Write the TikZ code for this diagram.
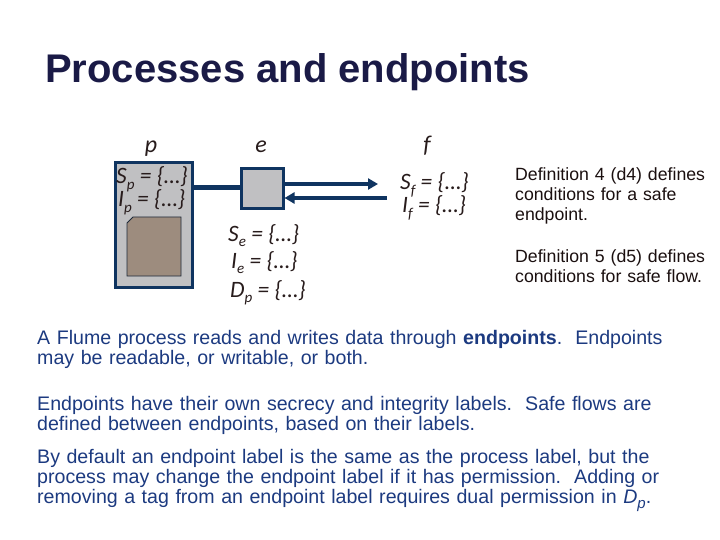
\documentclass[tikz,border=0pt]{standalone}
\usepackage{fontspec}
\setmainfont{Liberation Sans}
\newfontfamily\calfont{Carlito}
\usepackage{tikz}
\usetikzlibrary{positioning,arrows.meta,calc}
\definecolor{titlec}{RGB}{26,26,70}
\definecolor{boxline}{RGB}{15,52,96}
\definecolor{boxfill}{RGB}{192,192,194}
\definecolor{chipfill}{RGB}{157,140,126}
\definecolor{chipline}{RGB}{30,42,58}
\definecolor{bodyc}{RGB}{28,58,128}
\definecolor{notec}{RGB}{26,15,15}
\definecolor{lblc}{RGB}{40,28,28}
\newcommand{\sbs}[1]{\raisebox{-0.5ex}{\fontsize{15}{15}\selectfont #1}}
\tikzset{
  procbox/.style={draw=boxline, fill=boxfill, line width=3pt, minimum width=77pt,
                  minimum height=124pt, inner sep=0pt},
  epbox/.style={procbox, minimum width=42pt, minimum height=40pt},
  chip/.style={draw=chipline, fill=chipfill, line width=0.8pt},
  link/.style={boxline, line width=5pt},
  flow/.style={-{Triangle[length=10pt,width=11pt]}, boxline, line width=4pt},
  tagname/.style={font=\calfont\itshape\fontsize{24}{24}\selectfont, text=lblc,
               inner sep=0pt, anchor=base},
  lbl/.style={font=\calfont\itshape\fontsize{23.5}{24}\selectfont, text=lblc,
              inner sep=0pt, anchor=base west},
  note/.style={font=\fontsize{17.7}{20}\selectfont, text=notec, inner sep=0pt,
               anchor=base west, text width=200pt, align=left},
  para/.style={font=\fontsize{19.6}{20}\selectfont, text=bodyc, inner sep=0pt,
               anchor=base west, text width=680pt, align=left}
}
\begin{document}
\begin{tikzpicture}[x=1pt,y=-1pt]
\useasboundingbox (0,0) rectangle (720,540);
\node[font=\bfseries\fontsize{40}{40}\selectfont, text=titlec, anchor=base west, inner sep=0pt] (title) at (45,83) {Processes and endpoints};
% process, endpoint, other side
\node[procbox] (p) at (153.5,225) {};
\draw[chip] (127,223) -- (133,217) -- (181,217) -- (181,276) -- (127,276) -- cycle;
\node[epbox] (e) at (262,189) {};
\node[tagname] (pname) at (151,153) {p};
\node[tagname] (ename) at (261,153) {e};
\node[tagname] (fname) at (427,153) {f};
\node[lbl] (sp) at (116,184) {S\sbs{p} = \{…\}};
\node[lbl] (ip) at (118,207) {I\sbs{p} = \{…\}};
\node[lbl] (se) at (228,241) {S\sbs{e} = \{…\}};
\node[lbl] (ie) at (231,268) {I\sbs{e} = \{…\}};
\node[lbl] (dp) at (230,297) {D\sbs{p} = \{…\}};
\node[lbl] (sf) at (400,190) {S\sbs{f} = \{…\}};
\node[lbl] (if) at (402,213) {I\sbs{f} = \{…\}};
\coordinate (fin) at (378,184);
\coordinate (fout) at (387,198);
\draw[link] (p.east |- 0,188) -- (e.west |- 0,188);
\draw[flow] (e.east |- fin) -- (fin);
\draw[flow] (fout) -- (e.east |- fout);
% notes on the right
\node[note] (d4) at (515,181) {Definition 4 (d4) defines\\ conditions for a safe\\ endpoint.};
\node[note] (d5) at (515,262) {Definition 5 (d5) defines\\ conditions for safe flow.};
% text below
\node[para] (intro) at (37,344) {A Flume process reads and writes data through \textbf{endpoints}.\ \ Endpoints\\ may be readable, or writable, or both.};
\node[para] (labels) at (37,410) {Endpoints have their own secrecy and integrity labels.\ \ Safe flows are\\ defined between endpoints, based on their labels.};
\node[para] (dflt) at (37,463) {By default an endpoint label is the same as the process label, but the\\ process may change the endpoint label if it has permission.\ \ Adding or\\ removing a tag from an endpoint label requires dual permission in \textit{D}\sbs{\textit{p}}.};
\end{tikzpicture}
\end{document}
